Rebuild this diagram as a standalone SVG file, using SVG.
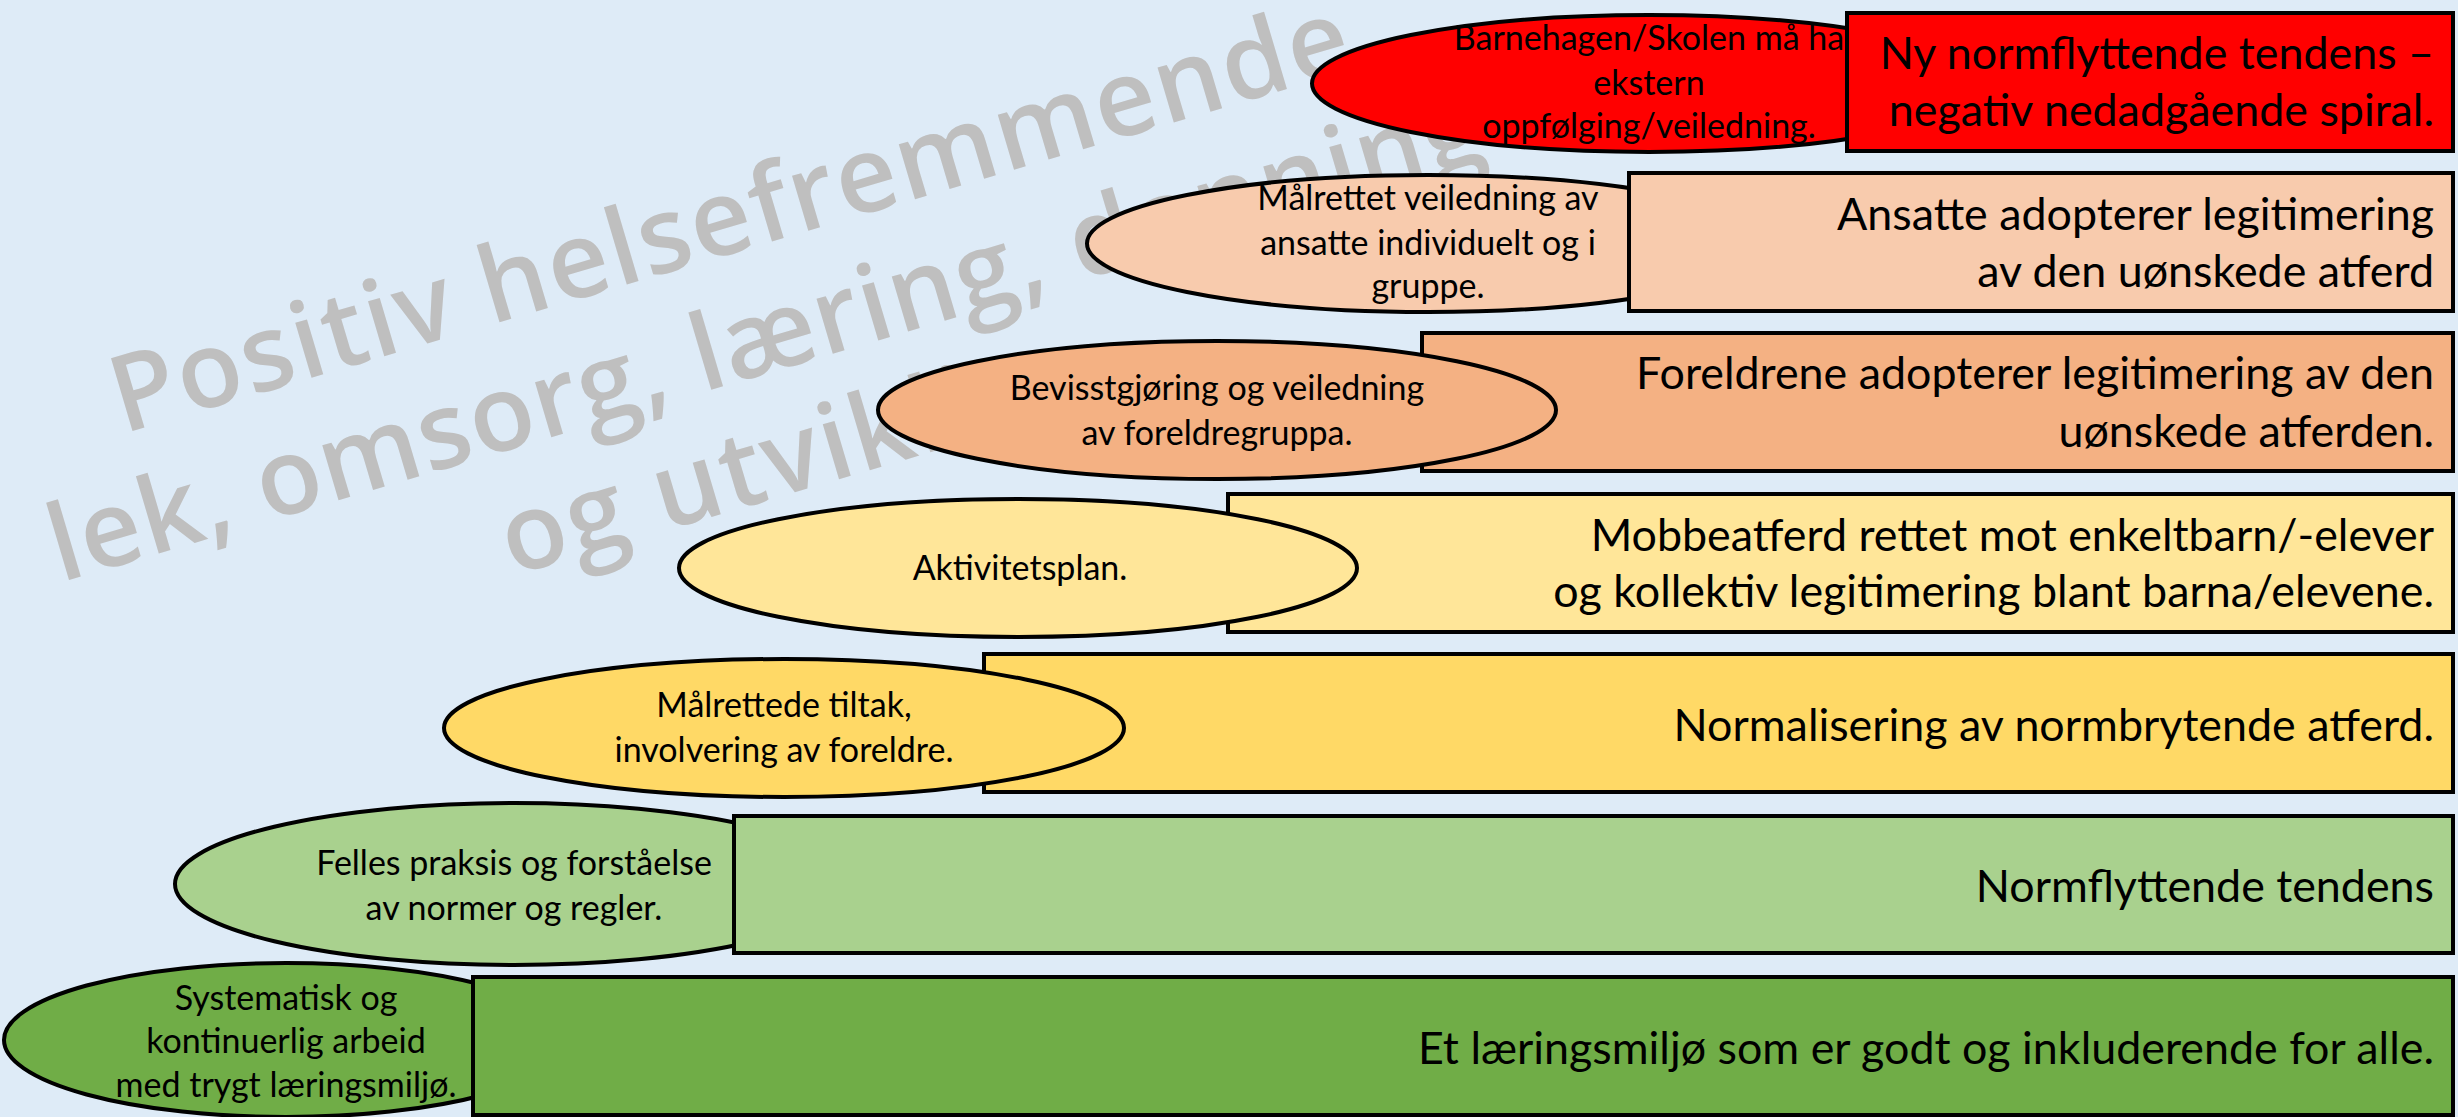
<svg xmlns="http://www.w3.org/2000/svg" width="2458" height="1117" viewBox="0 0 2458 1117">
<style>
.bg{fill:#DEEBF7}
.box{stroke:#000;stroke-width:4}
.ell{stroke:#000;stroke-width:4}
.bt{font-family:Lato,"Liberation Sans",sans-serif;font-size:44.8px;fill:#000;text-anchor:end}
.et{font-family:Lato,"Liberation Sans",sans-serif;font-size:34px;fill:#000;text-anchor:middle}
.wm{font-family:"Open Sans","DejaVu Sans",sans-serif;font-size:106px;font-weight:600;fill:#BFBFBF;text-anchor:middle}
</style>
<rect class="bg" x="0" y="0" width="2458" height="1117"/>
<g id="watermark" transform="translate(775,371) rotate(-16.5)">
<text class="wm" x="0" y="-125" textLength="1286" lengthAdjust="spacing">Positiv helsefremmende</text>
<text class="wm" x="0" y="0" textLength="1490" lengthAdjust="spacing">lek, omsorg, læring, danning</text>
<text class="wm" x="0" y="122" textLength="620" lengthAdjust="spacing">og utvikling</text>
</g>
<g id="row1">
<g id="ellipse1">
<ellipse class="ell" cx="1649" cy="83.5" rx="337" ry="68.5" fill="#FF0000"/>
<text class="et" x="1649" y="50">Barnehagen/Skolen må ha</text>
<text class="et" x="1649" y="95">ekstern</text>
<text class="et" x="1649" y="138">oppfølging/veiledning.</text>
</g>
<g id="box1">
<rect class="box" x="1847" y="13" width="606" height="138" fill="#FF0000"/>
<text class="bt" x="2434" y="69">Ny normflyttende tendens –</text>
<text class="bt" x="2434" y="126">negativ nedadgående spiral.</text>
</g>
</g>
<g id="row2">
<g id="ellipse2">
<ellipse class="ell" cx="1428" cy="243.5" rx="341" ry="68.5" fill="#F8CBAD"/>
<text class="et" x="1428" y="210">Målrettet veiledning av</text>
<text class="et" x="1428" y="255">ansatte individuelt og i</text>
<text class="et" x="1428" y="298">gruppe.</text>
</g>
<g id="box2">
<rect class="box" x="1629" y="173" width="824" height="138" fill="#F8CBAD"/>
<text class="bt" x="2434" y="230">Ansatte adopterer legitimering</text>
<text class="bt" x="2434" y="287">av den uønskede atferd</text>
</g>
</g>
<g id="row3">
<g id="box3">
<rect class="box" x="1422" y="333" width="1031" height="138" fill="#F4B183"/>
<text class="bt" x="2434" y="389">Foreldrene adopterer legitimering av den</text>
<text class="bt" x="2434" y="447">uønskede atferden.</text>
</g>
<g id="ellipse3">
<ellipse class="ell" cx="1217" cy="410" rx="339" ry="69" fill="#F4B183"/>
<text class="et" x="1217" y="400">Bevisstgjøring og veiledning</text>
<text class="et" x="1217" y="445">av foreldregruppa.</text>
</g>
</g>
<g id="row4">
<g id="box4">
<rect class="box" x="1228" y="494" width="1225" height="138" fill="#FFE699"/>
<text class="bt" x="2434" y="551">Mobbeatferd rettet mot enkeltbarn/-elever</text>
<text class="bt" x="2434" y="607">og kollektiv legitimering blant barna/elevene.</text>
</g>
<g id="ellipse4">
<ellipse class="ell" cx="1018" cy="568" rx="339" ry="69" fill="#FFE699"/>
<text class="et" x="1020" y="580">Aktivitetsplan.</text>
</g>
</g>
<g id="row5">
<g id="box5">
<rect class="box" x="984" y="654" width="1469" height="138" fill="#FFD966"/>
<text class="bt" x="2434" y="741">Normalisering av normbrytende atferd.</text>
</g>
<g id="ellipse5">
<ellipse class="ell" cx="784" cy="728" rx="340" ry="69" fill="#FFD966"/>
<text class="et" x="784" y="717">Målrettede tiltak,</text>
<text class="et" x="784" y="762">involvering av foreldre.</text>
</g>
</g>
<g id="row6">
<g id="ellipse6">
<ellipse class="ell" cx="514" cy="884" rx="339" ry="81" fill="#A9D18E"/>
<text class="et" x="514" y="875">Felles praksis og forståelse</text>
<text class="et" x="514" y="920">av normer og regler.</text>
</g>
<g id="box6">
<rect class="box" x="734" y="816" width="1719" height="137" fill="#A9D18E"/>
<text class="bt" x="2434" y="902">Normflyttende tendens</text>
</g>
</g>
<g id="row7">
<g id="ellipse7">
<ellipse class="ell" cx="286" cy="1040" rx="282" ry="77" fill="#70AD47"/>
<text class="et" x="286" y="1010">Systematisk og</text>
<text class="et" x="286" y="1053">kontinuerlig arbeid</text>
<text class="et" x="286" y="1097">med trygt læringsmiljø.</text>
</g>
<g id="box7">
<rect class="box" x="473" y="977" width="1980" height="138" fill="#70AD47"/>
<text class="bt" x="2434" y="1064">Et læringsmiljø som er godt og inkluderende for alle.</text>
</g>
</g>
<g id="connectors"/>
</svg>
